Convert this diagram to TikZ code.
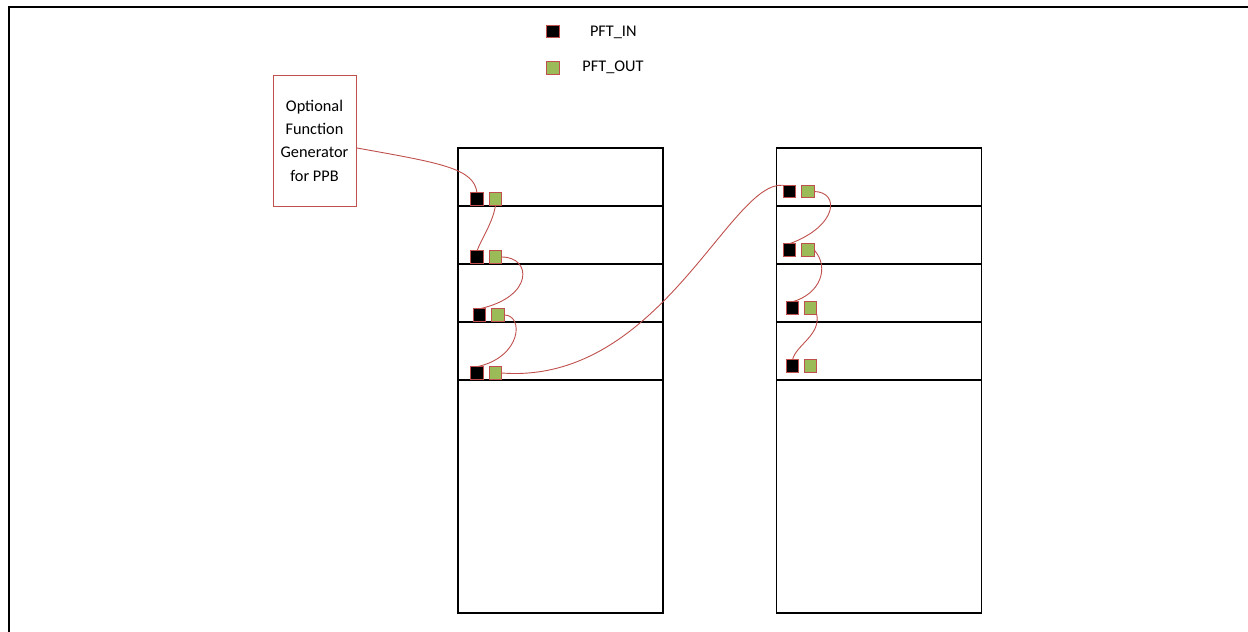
\documentclass[tikz,border=0pt]{standalone}
\usepackage{fontspec}
\setmainfont{Carlito}
\definecolor{ored}{HTML}{C0504D}
\definecolor{ogreen}{HTML}{9BBB59}
\tikzset{
  pin/.style={draw=ored, line width=1.1pt, minimum size=12.5pt, inner sep=0pt, outer sep=0pt},
  pinin/.style={pin, fill=black},
  pinout/.style={pin, fill=ogreen},
  wire/.style={draw=ored, line width=0.9pt},
  slab/.style={draw=black, line width=1.1pt, minimum width=205pt, minimum height=465pt, inner sep=0pt},
  divider/.style={draw=black, line width=1.1pt},
  lbl/.style={font=\fontsize{16.3pt}{23.3pt}\selectfont, inner sep=0pt},
}
\begin{document}
\begin{tikzpicture}[x=1pt,y=-1pt]
\useasboundingbox (0,0) rectangle (1248,632);
\fill[white] (0,0) rectangle (1248,632);
% frame
\draw[line width=2pt] (9,632) -- (9,7) -- (1248,7);

% legend
\node[pinin] (legin) at (553,31.5) {};
\node[pinout] (legout) at (553,68) {};
\node[lbl] (legintxt) at (613.3,32) {PFT\_IN};
\node[lbl] (legouttxt) at (613,67) {PFT\_OUT};

% generator
\node[draw=ored, line width=1pt, minimum width=83pt, minimum height=131pt, inner sep=0pt, lbl, align=center] (gen) at (314.5,140.5)
  {Optional\\Function\\Generator\\for PPB};

% slabs
\node[slab] (L) at (560.5,380.5) {};
\node[slab] (R) at (879,380.5) {};
\foreach \y in {206,264,322,380}{
  \draw[divider] (458,\y) -- (663,\y);
  \draw[divider] (776.5,\y) -- (981.5,\y);
}

% left slab pins
\node[pinin]  (b1) at (477,199) {};
\node[pinout] (g1) at (495.5,199) {};
\node[pinin]  (b2) at (477,257) {};
\node[pinout] (g2) at (495.5,257) {};
\node[pinin]  (b3) at (479.5,315) {};
\node[pinout] (g3) at (498,315) {};
\node[pinin]  (b4) at (477,373) {};
\node[pinout] (g4) at (495.5,373) {};

% right slab pins
\node[pinin]  (rb1) at (789.5,191.5) {};
\node[pinout] (rg1) at (808,191.5) {};
\node[pinin]  (rb2) at (789.5,250) {};
\node[pinout] (rg2) at (808,250) {};
\node[pinin]  (rb3) at (792.5,308) {};
\node[pinout] (rg3) at (810.5,308) {};
\node[pinin]  (rb4) at (792.5,366) {};
\node[pinout] (rg4) at (810.5,366) {};

% wires
\draw[wire] (gen.-10) .. controls (440,163) and (474,168) .. (b1.north);
\draw[wire] (g1.south) .. controls (493,222) and (482,238) .. (b2.north);
\draw[wire] (g2.east) .. controls (532,257) and (534,297) .. (b3.north);
\draw[wire] (g3.east) .. controls (524,315) and (522,357) .. (b4.north);
\draw[wire] (g4.east) .. controls (660,385) and (730,180) .. (rb1.north west);
\draw[wire] (rg1.east) .. controls (840,192) and (838,226) .. (rb2.north);
\draw[wire] (rg2.east) .. controls (830,268) and (820,294) .. (rb3.north);
\draw[wire] (rg3.south east) .. controls (821,335) and (796,345) .. (rb4.north);
\end{tikzpicture}
\end{document}
